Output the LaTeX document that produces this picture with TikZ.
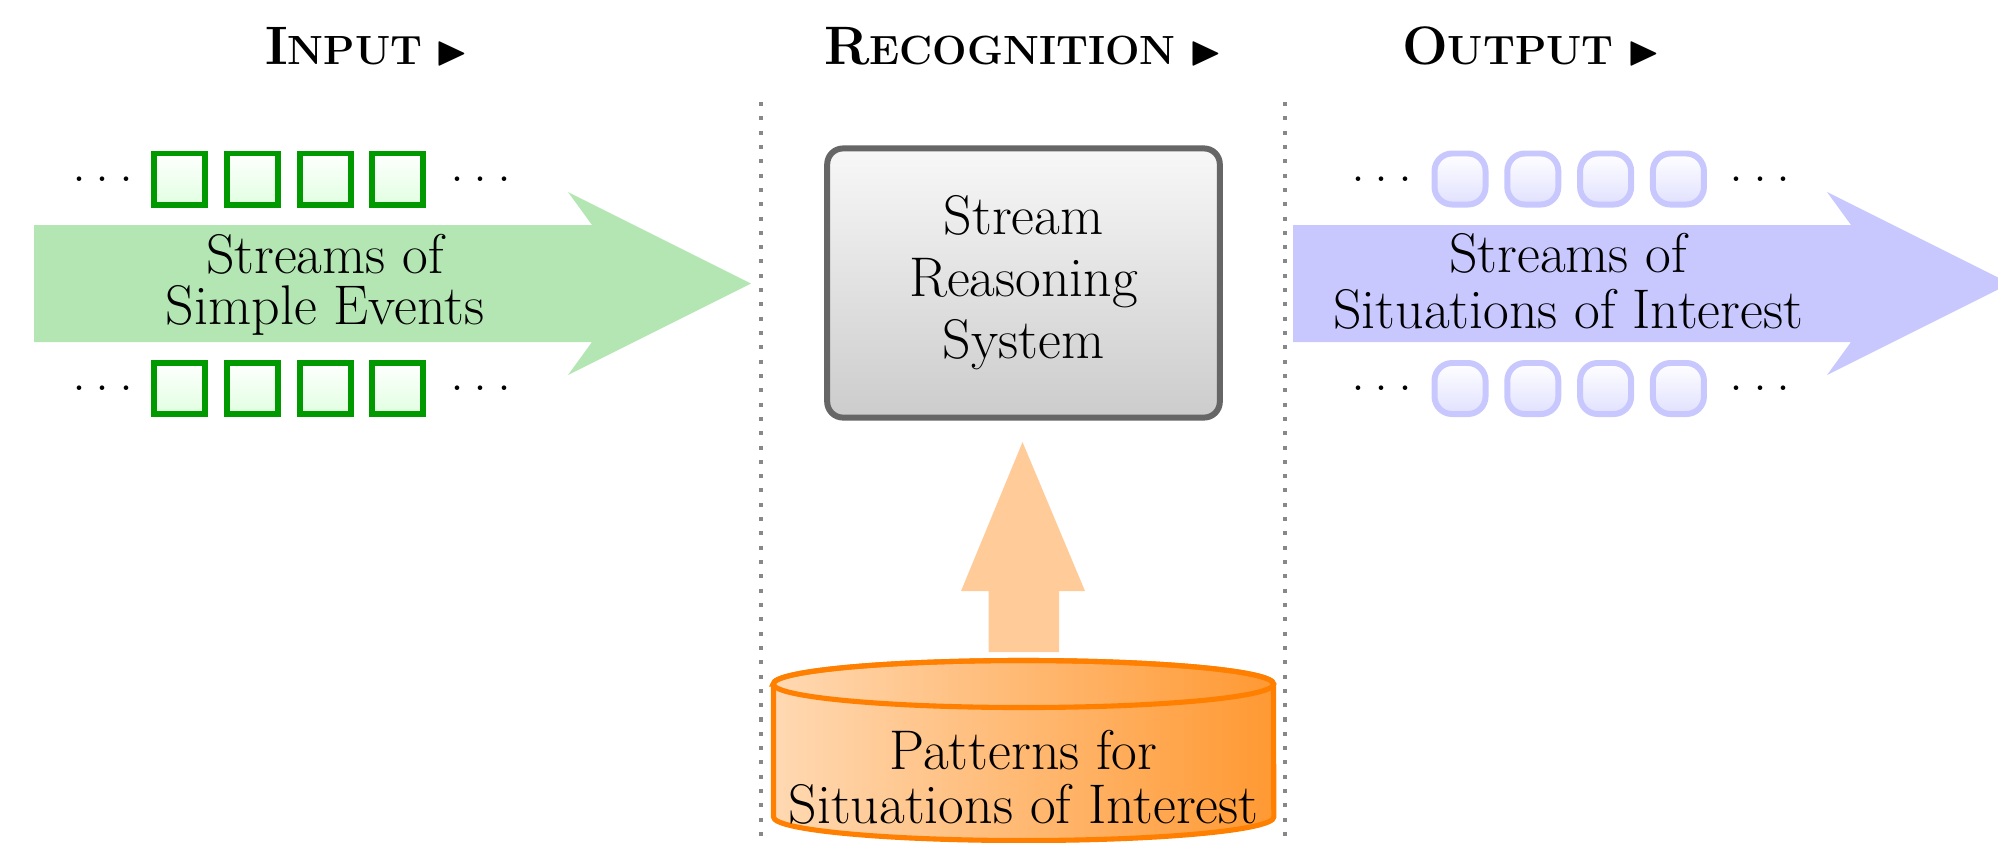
\documentclass[tikz,border=0pt]{standalone}
\usepackage{amssymb}
\newcommand{\headtri}{{\fontsize{12}{14}\selectfont$\blacktriangleright$}}
\newcommand{\hsc}[2]{{\fontsize{15.4}{18}\selectfont #1\fontsize{11.6}{14}\selectfont #2}}
\newcommand{\stdots}{.\kern0.1667em.\kern0.1667em.}
\definecolor{grarrow}{HTML}{B3E6B3}
\definecolor{grline}{HTML}{009900}
\definecolor{blarrow}{HTML}{C8C8FF}
\definecolor{orarrow}{HTML}{FFCC99}
\definecolor{cylline}{HTML}{FF8000}
\definecolor{boxline}{HTML}{666666}
\definecolor{sepcol}{HTML}{888888}
\tikzset{
  head/.style={font=\bfseries, inner sep=0pt},
  sepline/.style={draw=sepcol, line width=1.15pt, dash pattern=on 1.15pt off 2.92pt},
  evsq/.style={rectangle, draw=grline, line width=1.7pt, top color=white, bottom color=green!12,
               minimum size=0.51cm, inner sep=0pt},
  sitsq/.style={rectangle, rounded corners=5pt, draw=blarrow, line width=1.7pt, top color=white,
               bottom color=blue!12, minimum size=0.51cm, inner sep=0pt},
  dotsn/.style={font=\fontsize{15.9}{18}\selectfont, inner sep=0pt},
  bigtext/.style={align=center, inner sep=0pt},
  srsbox/.style={rectangle, rounded corners=4.5pt, draw=boxline, line width=1.7pt,
               top color=white!97!black, bottom color=black!20,
               minimum width=3.924cm, minimum height=2.69cm, align=center, inner sep=0pt,
               font=\fontsize{15.9}{17.6}\selectfont},
}
\begin{document}
\begin{tikzpicture}[x=0.01cm, y=-0.01cm]
\useasboundingbox (0,0) rectangle (1998,842);

% headings
\node[head, anchor=base] (hin) at (367,64) {\hsc{I}{NPUT} \headtri};
\node[head, anchor=base] (hrec) at (1023,64) {\hsc{R}{ECOGNITION} \headtri};
\node[head, anchor=base] (hout) at (1531,64) {\hsc{O}{UTPUT} \headtri};

% separators
\coordinate (s1t) at (761,102); \coordinate (s1b) at (761,842);
\coordinate (s2t) at (1285,102); \coordinate (s2b) at (1285,842);
\draw[sepline] (s1t) -- (s1b);
\draw[sepline] (s2t) -- (s2b);

% input arrow
\fill[grarrow] (34,225) -- (592,225) -- (568,192) -- (751,283.5) -- (568,375) -- (592,342) -- (34,342) -- cycle;
\node[bigtext, font=\fontsize{15.9}{14.5}\selectfont] (intext) at (325,284.6) {Streams of\\Simple Events};

% input events
\foreach \i in {0,...,3} {
  \node[evsq] (et\i) at ({179.5+72.8*\i},179) {};
  \node[evsq] (eb\i) at ({179.5+72.8*\i},388.5) {};
}
\node[dotsn] (etl) at (103,179) {\stdots};
\node[dotsn] (etr) at (481,179) {\stdots};
\node[dotsn] (ebl) at (103,388.5) {\stdots};
\node[dotsn] (ebr) at (481,388.5) {\stdots};

% output arrow
\fill[blarrow] (1293,225) -- (1851,225) -- (1827,192) -- (2010,283.5) -- (1827,375) -- (1851,342) -- (1293,342) -- cycle;
\node[bigtext, font=\fontsize{15.9}{15.9}\selectfont] (outtext) at (1568,281.7) {Streams of\\Situations of Interest};

% output situations
\foreach \i in {0,...,3} {
  \node[sitsq] (st\i) at ({1460+72.8*\i},179) {};
  \node[sitsq] (sb\i) at ({1460+72.8*\i},388.5) {};
}
\node[dotsn] (stl) at (1382,179) {\stdots};
\node[dotsn] (str) at (1760,179) {\stdots};
\node[dotsn] (sbl) at (1382,388.5) {\stdots};
\node[dotsn] (sbr) at (1760,388.5) {\stdots};

% stream reasoning system
\node[srsbox] (srs) at (1023.5,283) {Stream\\Reasoning\\System};

% upward arrow
\fill[orarrow] (988.5,652) -- (988.5,591) -- (961,591) -- (1022.5,442) -- (1085,591) -- (1059,591) -- (1059,652) -- cycle;

% pattern database (cylinder)
\coordinate (cyltop) at (1023.5,684);
\path[left color=orange!30, middle color=orange!36, right color=orange!80, draw=cylline, line width=1.45pt]
  (773.5,684) -- (773.5,817)
  arc[start angle=180, end angle=360, x radius=2.5cm, y radius=0.235cm]
  -- (1273.5,684)
  arc[start angle=0, end angle=180, x radius=2.5cm, y radius=0.235cm] -- cycle;
\draw[draw=cylline, line width=1.45pt] (cyltop) ellipse [x radius=2.5cm, y radius=0.235cm];
\node[bigtext, font=\fontsize{15.9}{15.6}\selectfont] (pat) at (1023.5,777.3) {Patterns for\\Situations of Interest};
\end{tikzpicture}
\end{document}
